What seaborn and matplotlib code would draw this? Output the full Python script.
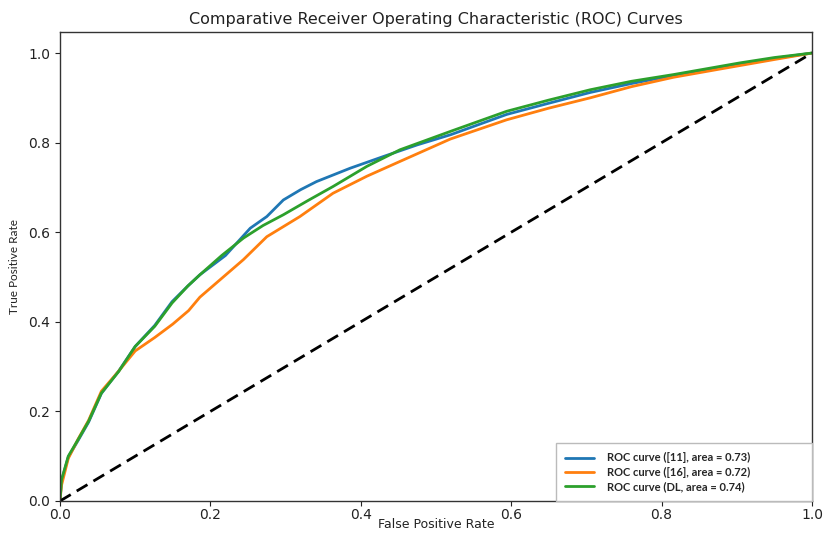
import numpy as np
import pandas as pd
import seaborn as sns
import matplotlib
matplotlib.use("Agg")
import matplotlib.pyplot as plt

# ROC curve points
fpr_11 = [0.0, 0.002, 0.011, 0.024, 0.038, 0.055, 0.078, 0.10, 0.126, 0.149, 0.17, 0.186, 0.22, 0.253, 0.275, 0.297,
          0.32, 0.341, 0.386, 0.43, 0.475, 0.52, 0.594, 0.65, 0.705, 0.76, 0.816, 0.86, 0.904, 0.95, 1.0]
tpr_11 = [0.0, 0.045, 0.098, 0.135, 0.176, 0.240, 0.290, 0.345, 0.392, 0.445, 0.48, 0.505, 0.548, 0.609, 0.635, 0.672,
          0.695, 0.713, 0.743, 0.769, 0.795, 0.818, 0.863, 0.888, 0.912, 0.932, 0.950, 0.962, 0.975, 0.988, 1.0]

fpr_16 = [0.0, 0.002, 0.011, 0.024, 0.038, 0.055, 0.078, 0.10, 0.126, 0.15, 0.171, 0.186, 0.215, 0.244, 0.275, 0.319,
          0.363, 0.408, 0.452, 0.519, 0.594, 0.65, 0.705, 0.76, 0.816, 0.88, 0.948, 1.0]
tpr_16 = [0.0, 0.035, 0.095, 0.138, 0.180, 0.245, 0.290, 0.335, 0.365, 0.395, 0.425, 0.455, 0.497, 0.539, 0.590, 0.635,
          0.687, 0.725, 0.758, 0.808, 0.851, 0.877, 0.900, 0.925, 0.946, 0.965, 0.985, 1.0]

fpr_dl = [0.0, 0.002, 0.011, 0.024, 0.038, 0.055, 0.078, 0.10, 0.126, 0.149, 0.17, 0.186, 0.215, 0.244, 0.27, 0.297,
          0.33, 0.363, 0.408, 0.452, 0.519, 0.594, 0.65, 0.705, 0.76, 0.816, 0.86, 0.904, 0.95, 1.0]
tpr_dl = [0.0, 0.047, 0.10, 0.137, 0.178, 0.241, 0.289, 0.345, 0.39, 0.442, 0.48, 0.505, 0.548, 0.587, 0.615, 0.639,
          0.671, 0.702, 0.747, 0.784, 0.825, 0.870, 0.895, 0.918, 0.937, 0.952, 0.965, 0.978, 0.99, 1.0]

labels = ["ROC curve ([11], area = 0.73)", "ROC curve ([16], area = 0.72)", "ROC curve (DL, area = 0.74)"]
colors = ["#1f77b4", "#ff7f0e", "#2ca02c"]

sns.set_style("white")
plt.rcParams["font.family"] = ["DejaVu Sans"]

fig = plt.figure(figsize=(8.23, 5.33), dpi=100)
ax = fig.add_axes([60 / 823, 32 / 533, (812 - 60) / 823, (501 - 32) / 533])

for lab, c, fx, ty in zip(labels, colors, [fpr_11, fpr_16, fpr_dl], [tpr_11, tpr_16, tpr_dl]):
    sns.lineplot(x=fx, y=ty, color=c, lw=2, sort=False, estimator=None, ax=ax, label=lab)

ax.plot([0, 1], [0, 1], color="black", lw=2, ls=(0, (4.5, 2.5)))

ax.set_xlim(0, 1.0)
ax.set_ylim(0, 1.047)
ax.set_xticks([0, 0.2, 0.4, 0.6, 0.8, 1.0])
ax.set_yticks([0, 0.2, 0.4, 0.6, 0.8, 1.0])
ax.tick_params(axis="both", labelsize=10, length=3.5, width=0.8, direction="out", bottom=True, left=True,
               colors="#222222")
ax.tick_params(axis="x", pad=1.5)
for s in ax.spines.values():
    s.set_color("#333333")
    s.set_linewidth(1.0)

ax.set_title("Comparative Receiver Operating Characteristic (ROC) Curves", fontsize=11.5, pad=6, color="#222222")
ax.set_xlabel("False Positive Rate", fontsize=9, color="#222222")
ax.xaxis.set_label_coords(0.5, -0.036)
ax.set_ylabel("True Positive Rate", fontsize=8.5, family=["Lato", "DejaVu Sans"], labelpad=6, color="#222222")

x0 = (556 - 60) / 752
w = (812 - 556) / 752
leg = ax.legend(loc="lower left", bbox_to_anchor=(x0, 0, w, 0.12), mode="expand", borderaxespad=0,
                prop={"family": ["Lato", "DejaVu Sans"], "weight": "bold", "size": 8},
                frameon=True, handlelength=2.6, borderpad=0.8, labelspacing=0.3, fancybox=False,
                handletextpad=1.2)
leg.get_frame().set_edgecolor("#bbbbbb")
leg.get_frame().set_alpha(1.0)

fig.savefig("out.png", dpi=100)
